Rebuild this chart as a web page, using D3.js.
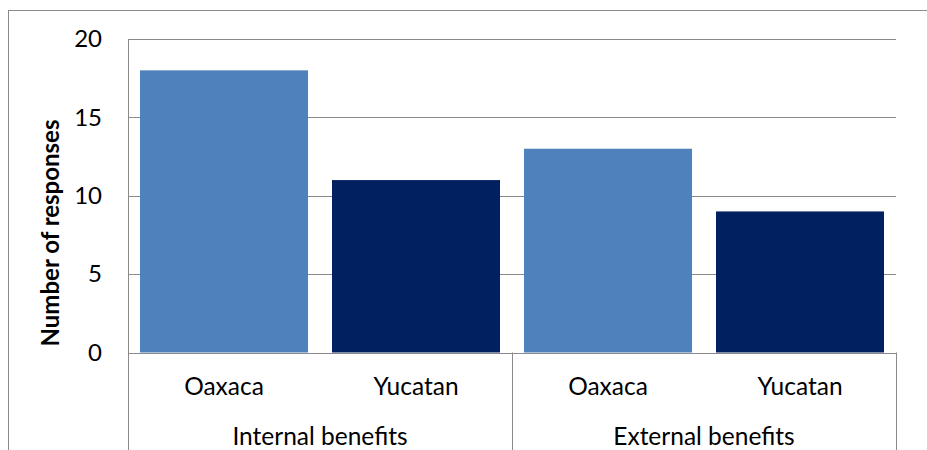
<!DOCTYPE html>
<html>
<head>
<meta charset="utf-8">
<script src="https://cdn.jsdelivr.net/npm/d3@7"></script>
<style>
  body { margin: 0; background: #fff; }
  svg { display: block; }
  text { font-family: Lato, "Open Sans", sans-serif; fill: #000; }
</style>
</head>
<body>
<div id="chart"></div>
<script>
// data
const groups = ['Internal benefits', 'External benefits'];
const regions = ['Oaxaca', 'Yucatan'];
const oaxaca = [18, 13];
const yucatan = [11, 9];
const yTicks = [0, 5, 10, 15, 20];
const colors = { Oaxaca: '#4f81bd', Yucatan: '#002060' };

const width = 927;
const height = 450;
const plot = { left: 128, right: 896, top: 39, bottom: 352.5 };
const lineColor = '#8a8a8a';

const svg = d3.select('#chart')
  .append('svg')
  .attr('width', width)
  .attr('height', height);

// chart area border (runs off the right and bottom of the picture)
svg.append('rect')
  .attr('x', 8.5)
  .attr('y', 10.5)
  .attr('width', 940)
  .attr('height', 460)
  .attr('fill', 'none')
  .attr('stroke', lineColor);

const rows = [];
groups.forEach((g, gi) => {
  rows.push({ key: g + '|Oaxaca', group: g, region: 'Oaxaca', value: oaxaca[gi] });
  rows.push({ key: g + '|Yucatan', group: g, region: 'Yucatan', value: yucatan[gi] });
});

const x = d3.scaleBand()
  .domain(rows.map(d => d.key))
  .range([plot.left, plot.right])
  .paddingInner(0.125)
  .paddingOuter(0.0625);

const xGroup = d3.scaleBand()
  .domain(groups)
  .range([plot.left, plot.right]);

const y = d3.scaleLinear()
  .domain([0, 20])
  .range([plot.bottom, plot.top]);

// gridlines
svg.append('g')
  .selectAll('line')
  .data(yTicks.filter(t => t > 0))
  .join('line')
  .attr('x1', plot.left)
  .attr('x2', plot.right)
  .attr('y1', d => Math.round(y(d)) + 0.5)
  .attr('y2', d => Math.round(y(d)) + 0.5)
  .attr('stroke', lineColor);

// bars
svg.append('g')
  .selectAll('rect')
  .data(rows)
  .join('rect')
  .attr('x', d => x(d.key))
  .attr('width', x.bandwidth())
  .attr('y', d => y(d.value))
  .attr('height', d => y(0) - y(d.value))
  .attr('fill', d => colors[d.region]);

// y axis labels
const yAxis = svg.append('g')
  .attr('transform', `translate(${plot.left},0)`)
  .call(d3.axisLeft(y).tickValues(yTicks).tickSize(0).tickPadding(26));
yAxis.select('.domain').remove();
yAxis.selectAll('text')
  .attr('font-size', 24)
  .style('font-family', 'Lato, "Open Sans", sans-serif')
  .attr('fill', '#000');

// axis lines
const axisG = svg.append('g').attr('stroke', lineColor).attr('fill', 'none');
axisG.append('line')
  .attr('x1', plot.left + 0.5).attr('x2', plot.left + 0.5)
  .attr('y1', plot.top).attr('y2', height);
axisG.append('line')
  .attr('x1', plot.left).attr('x2', plot.right)
  .attr('y1', Math.round(y(0)) + 0.5).attr('y2', Math.round(y(0)) + 0.5);
axisG.selectAll('.sep')
  .data(groups)
  .join('line')
  .attr('class', 'sep')
  .attr('x1', d => Math.round(xGroup(d) + xGroup.bandwidth()) + 0.5)
  .attr('x2', d => Math.round(xGroup(d) + xGroup.bandwidth()) + 0.5)
  .attr('y1', y(0))
  .attr('y2', height);

// category labels
svg.append('g')
  .selectAll('text')
  .data(rows)
  .join('text')
  .attr('x', d => x(d.key) + x.bandwidth() / 2)
  .attr('y', 395)
  .attr('text-anchor', 'middle')
  .attr('font-size', 24.5)
  .text(d => d.region);

svg.append('g')
  .selectAll('text')
  .data(groups)
  .join('text')
  .attr('x', d => xGroup(d) + xGroup.bandwidth() / 2)
  .attr('y', 445)
  .attr('text-anchor', 'middle')
  .attr('font-size', 24.5)
  .text(d => d);

// y axis title
svg.append('text')
  .attr('transform', `translate(59,233) rotate(-90)`)
  .attr('text-anchor', 'middle')
  .attr('font-size', 24)
  .attr('font-weight', 'bold')
  .text('Number of responses');
</script>
</body>
</html>
